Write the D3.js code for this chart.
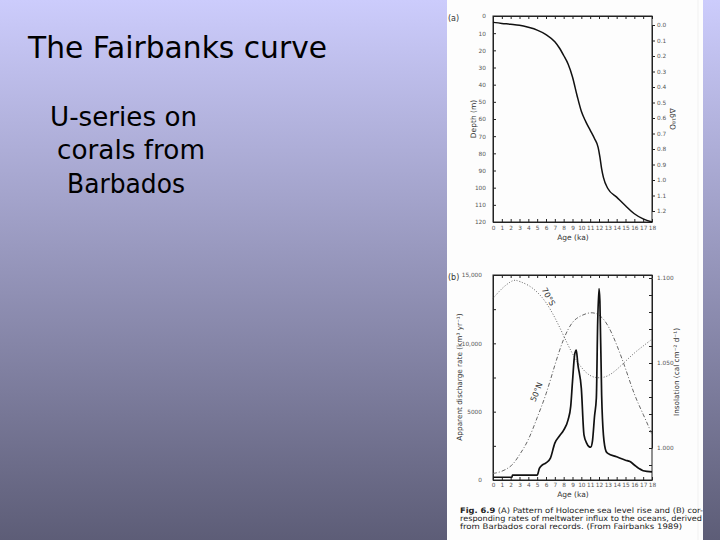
<!DOCTYPE html>
<html>
<head>
<meta charset="utf-8">
<script src="https://cdn.jsdelivr.net/npm/d3@7"></script>
<style>
  body { margin: 0; }
  svg text { font-family: "DejaVu Sans", sans-serif; }
</style>
</head>
<body>
<div id="canvas"></div>
<script>
// (a) sea level: depth (m) vs age (ka)
const ageA =   [0, 1, 2, 3, 4, 5, 6, 7, 7.5, 8, 8.5, 9, 9.5, 10, 10.5, 11, 11.5, 11.9, 12.1, 12.3, 12.5, 13, 14, 15, 16, 17, 18];
const depthA = [3.7, 4.3, 4.8, 5.4, 6.6, 8.2, 10.8, 15, 18.5, 23, 28, 35.5, 46, 55.5, 61.5, 66.5, 71.5, 76.5, 82, 89, 94, 100.5, 105.5, 110.5, 115.2, 118.2, 120];

// (b) apparent discharge rate (km3/yr) vs age (ka)
const ageB = [0, 2.15, 2.2, 5.0, 5.25, 5.5, 6.0, 6.5, 7.0, 7.5, 8.0, 8.5, 8.8, 9.0, 9.25, 9.43, 9.6, 10.0, 10.3, 10.6, 10.85, 11.06, 11.25, 11.5, 11.7, 11.85, 12.0, 12.1, 12.3, 12.5, 12.8, 13, 14, 15, 15.5, 16, 16.5, 17, 18];
const discharge = [200, 200, 350, 350, 850, 1050, 1250, 1600, 2700, 3200, 3650, 4400, 5400, 7200, 9200, 9500, 8500, 6700, 3300, 2700, 2450, 2400, 2800, 4700, 6000, 11500, 14000, 13100, 6200, 3300, 2100, 1950, 1700, 1450, 1350, 1100, 850, 680, 600];

// insolation (cal cm-2 d-1)
const ageIns = [0, 1, 2, 2.5, 3, 4, 5, 6, 7, 8, 9, 10, 11, 12, 13, 14, 15, 16, 17, 18];
const ins70S = [1.088, 1.094, 1.098, 1.099, 1.098, 1.096, 1.092, 1.086, 1.077, 1.066, 1.055, 1.047, 1.042, 1.041, 1.042, 1.046, 1.051, 1.056, 1.060, 1.064];
const ins50N = [0.985, 0.986, 0.989, 0.992, 0.996, 1.004, 1.018, 1.031, 1.049, 1.065, 1.075, 1.078, 1.080, 1.079, 1.073, 1.061, 1.047, 1.031, 1.020, 1.008];

const ageTicks = d3.range(0, 19);
const depthTicks = d3.range(0, 121, 10);
const d18Ticks = d3.range(0, 13).map(d => d / 10);
const dischargeTicks = [0, 5000, 10000, 15000];
const insTicks = [1.000, 1.050, 1.100];

const W = 720, H = 540;
let svg = d3.select("#canvas").append("svg")
  .attr("width", W).attr("height", H);

// slide background
let grad = svg.append("defs").append("linearGradient")
  .attr("id", "bg").attr("x1", 0).attr("y1", 0).attr("x2", 0).attr("y2", 1);
grad.append("stop").attr("offset", "0%").attr("stop-color", "#ccccfc");
grad.append("stop").attr("offset", "100%").attr("stop-color", "#5d5d77");
svg.append("rect").attr("width", W).attr("height", H).attr("fill", "url(#bg)");

// slide text
svg.append("text").attr("x", 28).attr("y", 58)
  .attr("font-size", 31).attr("fill", "#000")
  .attr("textLength", 299).attr("lengthAdjust", "spacingAndGlyphs")
  .text("The Fairbanks curve");
[["U-series on", 50, 126, 147], ["corals from", 57, 159, 148], ["Barbados", 67, 193, 118]].forEach(l => {
  svg.append("text").attr("x", l[1]).attr("y", l[2])
    .attr("font-size", 26).attr("fill", "#000")
    .attr("textLength", l[3]).attr("lengthAdjust", "spacingAndGlyphs")
    .text(l[0]);
});

// figure panel
svg.append("rect").attr("x", 447).attr("y", 0).attr("width", 256).attr("height", H).attr("fill", "#fdfdfd");
svg.append("line").attr("x1", 698).attr("x2", 698).attr("y1", 0).attr("y2", H)
  .attr("stroke", "#eeeeee").attr("stroke-width", 0.8);

const ink = "#333";
function styleAxis(g) {
  g.selectAll("path").attr("stroke", "#222").attr("stroke-width", 1);
  g.selectAll("line").attr("stroke", "#222");
  g.selectAll("text").attr("fill", "#555").attr("font-size", 5.8)
    .attr("font-family", "DejaVu Sans Condensed, sans-serif");
}

// ---------- (a) ----------
let xA = d3.scaleLinear().domain([0, 18]).range([493, 652]);
let yA = d3.scaleLinear().domain([0, 120]).range([16, 222]);
let yA2 = d3.scaleLinear().domain([0, 1.2]).range([25, 211]);

svg.append("rect").attr("x", 493).attr("y", 16).attr("width", 159).attr("height", 206)
  .attr("fill", "none").attr("stroke", "#222");

svg.append("g").attr("transform", "translate(0,222)")
  .call(d3.axisBottom(xA).tickValues(ageTicks).tickSize(-3).tickPadding(4).tickSizeOuter(0))
  .call(styleAxis);
svg.append("g").attr("transform", "translate(0,16)")
  .call(d3.axisTop(xA).tickValues(ageTicks).tickSize(-3).tickFormat("").tickSizeOuter(0))
  .call(styleAxis);
svg.append("g").attr("transform", "translate(493,0)")
  .call(d3.axisLeft(yA).tickValues(depthTicks).tickSize(-3).tickPadding(7).tickSizeOuter(0))
  .call(styleAxis);
svg.append("g").attr("transform", "translate(652,0)")
  .call(d3.axisRight(yA2).tickValues(d18Ticks).tickSize(3).tickPadding(2).tickFormat(d3.format(".1f")).tickSizeOuter(0))
  .call(styleAxis);

svg.append("path").datum(ageA.map((a, i) => [a, depthA[i]]))
  .attr("fill", "none").attr("stroke", "#111").attr("stroke-width", 1.5)
  .attr("d", d3.line().x(d => xA(d[0])).y(d => yA(d[1])).curve(d3.curveMonotoneX));

svg.append("text").attr("x", 448).attr("y", 21).attr("font-size", 8).attr("fill", ink).text("(a)");
svg.append("text").attr("transform", "translate(476,119) rotate(-90)")
  .attr("text-anchor", "middle").attr("font-size", 7.5).attr("fill", ink).text("Depth (m)");
svg.append("text").attr("transform", "translate(670,119) rotate(90)")
  .attr("text-anchor", "middle").attr("font-size", 7.5).attr("fill", ink).text("Δδ¹⁸O");
svg.append("text").attr("x", 573).attr("y", 240)
  .attr("text-anchor", "middle").attr("font-size", 7.5).attr("fill", ink).text("Age (ka)");

// ---------- (b) ----------
let xB = d3.scaleLinear().domain([0, 18]).range([493, 652]);
let yB = d3.scaleLinear().domain([0, 15000]).range([480, 275]);
let yB2 = d3.scaleLinear().domain([1.0, 1.1]).range([448, 278]);

svg.append("rect").attr("x", 493).attr("y", 275).attr("width", 159).attr("height", 205)
  .attr("fill", "none").attr("stroke", "#222");

svg.append("g").attr("transform", "translate(0,480)")
  .call(d3.axisBottom(xB).tickValues(ageTicks).tickSize(-3).tickPadding(3).tickSizeOuter(0))
  .call(styleAxis);
svg.append("g").attr("transform", "translate(0,275)")
  .call(d3.axisTop(xB).tickValues(ageTicks).tickSize(-3).tickFormat("").tickSizeOuter(0))
  .call(styleAxis);
svg.append("g").attr("transform", "translate(493,0)")
  .call(d3.axisLeft(yB).tickValues(d3.range(0, 15001, 2500)).tickSize(-3).tickPadding(11).tickSizeOuter(0)
    .tickFormat(d => dischargeTicks.includes(d) ? (d >= 10000 ? d3.format(",")(d) : d) : ""))
  .call(styleAxis);
svg.append("g").attr("transform", "translate(652,0)")
  .call(d3.axisRight(yB2).tickValues(d3.range(99, 111).map(d => d / 100)).tickSize(-3).tickPadding(5).tickSizeOuter(0)
    .tickFormat(d => insTicks.some(t => Math.abs(t - d) < 1e-9) ? d3.format(".3f")(d) : ""))
  .call(styleAxis);

let insLine = d3.line().x(d => xB(d[0])).y(d => yB2(d[1])).curve(d3.curveBasis);
svg.append("path").datum(ageIns.map((a, i) => [a, ins70S[i]]))
  .attr("fill", "none").attr("stroke", "#555").attr("stroke-width", 0.9)
  .attr("stroke-dasharray", "1,1.8").attr("d", insLine);
svg.append("path").datum(ageIns.map((a, i) => [a, ins50N[i]]))
  .attr("fill", "none").attr("stroke", "#555").attr("stroke-width", 0.9)
  .attr("stroke-dasharray", "4,2,1,2").attr("d", insLine);

svg.append("path").datum(ageB.map((a, i) => [a, discharge[i]]))
  .attr("fill", "none").attr("stroke", "#111").attr("stroke-width", 1.7)
  .attr("stroke-linejoin", "round")
  .attr("d", d3.line().x(d => xB(d[0])).y(d => yB(d[1])).curve(d3.curveMonotoneX));

svg.append("text").attr("transform", "translate(546,298) rotate(62)")
  .attr("text-anchor", "middle").attr("font-size", 8).attr("fill", "#333").text("70°S");
svg.append("text").attr("transform", "translate(539,393) rotate(-68)")
  .attr("text-anchor", "middle").attr("font-size", 8).attr("fill", "#333").text("50°N");

svg.append("text").attr("x", 448).attr("y", 280).attr("font-size", 8).attr("fill", ink).text("(b)");
svg.append("text").attr("transform", "translate(462,377) rotate(-90)")
  .attr("text-anchor", "middle").attr("font-size", 7.3).attr("fill", ink).text("Apparent discharge rate (km³ yr⁻¹)");
svg.append("text").attr("transform", "translate(679,372) rotate(-90)")
  .attr("text-anchor", "middle").attr("font-size", 7.3).attr("fill", ink).text("Insolation (cal cm⁻² d⁻¹)");
svg.append("text").attr("x", 573).attr("y", 497)
  .attr("text-anchor", "middle").attr("font-size", 7.5).attr("fill", ink).text("Age (ka)");

// caption
let cap = svg.append("g").attr("font-size", 7.6).attr("fill", "#222");
let l1 = cap.append("text").attr("x", 460).attr("y", 513).attr("textLength", 243).attr("lengthAdjust", "spacingAndGlyphs");
l1.append("tspan").attr("font-weight", "bold").text("Fig. 6.9");
l1.append("tspan").text("   (A) Pattern of Holocene sea level rise and (B) cor-");
cap.append("text").attr("x", 460).attr("y", 521).attr("textLength", 242).attr("lengthAdjust", "spacingAndGlyphs")
  .text("responding rates of meltwater influx to the oceans, derived");
cap.append("text").attr("x", 460).attr("y", 529).attr("textLength", 222).attr("lengthAdjust", "spacingAndGlyphs")
  .text("from Barbados coral records. (From Fairbanks 1989)");
</script>
</body>
</html>
